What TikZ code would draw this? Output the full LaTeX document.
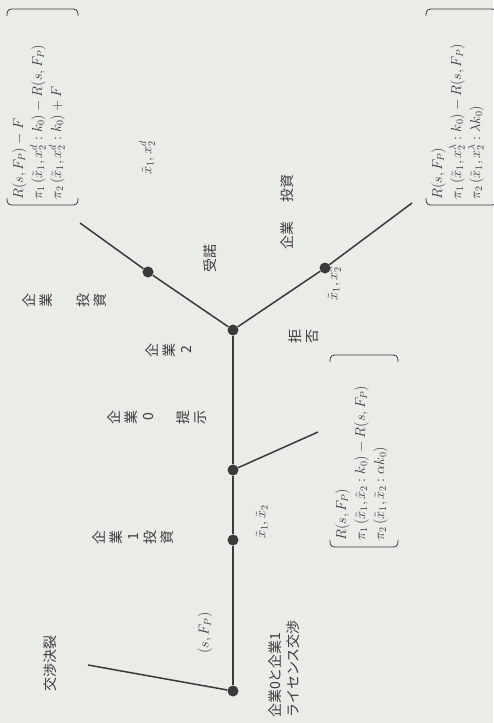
\documentclass[tikz,border=0pt]{standalone}
\usepackage{fontspec}
\newfontfamily\jp{Noto Sans CJK JP}
\definecolor{bgc}{RGB}{234,236,232}
\definecolor{ink}{RGB}{58,58,58}
\begin{document}
\begin{tikzpicture}[x=1pt,y=-1pt,
  dot/.style={circle,fill=ink,inner sep=0pt,minimum size=11pt},
  stem/.style={draw=ink,line width=2.2pt},
  branch/.style={draw=ink,line width=1.5pt},
  vlab/.style={rotate=90,text=ink,font=\jp\fontsize{14}{17}\selectfont,inner sep=0pt},
  tate/.style={rotate=90,align=center,text=ink,font=\jp\fontsize{14}{17}\selectfont,inner sep=0pt},
  mlab/.style={rotate=90,text=ink,font=\fontsize{14}{17}\selectfont,inner sep=0pt},
  mat/.style={rotate=90,align=left,text=ink,font=\fontsize{14}{19}\selectfont,inner sep=0pt,anchor=north west},
  paren/.style={draw=ink,line width=0.8pt}]
\fill[bgc] (0,0) rectangle (493,723);
\useasboundingbox (0,0) rectangle (493,723);
% nodes of the tree
\node[dot] (A) at (233,691) {};
\node[dot] (B) at (233,540) {};
\node[dot] (C) at (233,470) {};
\node[dot] (D) at (233,330) {};
\node[dot] (E) at (148,272) {};
\node[dot] (F) at (325,268) {};
\coordinate (Aend) at (88,665);
\coordinate (Cend) at (318,432);
\coordinate (Lend) at (80,223);
\coordinate (Rend) at (412,203);
% connectors
\draw[stem] (A) -- (B) -- (C) -- (D);
\draw[branch] (A) -- (Aend);
\draw[branch] (C) -- (Cend);
\draw[branch] (D) -- (E) -- (Lend);
\draw[branch] (D) -- (F) -- (Rend);
% Japanese labels
\node[vlab] (ketsu) at (50,663) {交渉決裂};
\node[vlab,align=left,anchor=north west] (root) at (268,718) {企業0と企業1\\[1pt]ライセンス交渉};
\node[tate] (inv1) at (133,537) {企\\業\\1\\投\\資};
\node[tate] (offer) at (157,417) {企\\業\\0\\[18pt]提\\示};
\node[tate] (f2) at (169,350) {企\\業\\2};
\node[tate] (invL) at (65,300) {企\\業\\[20pt]投\\資};
\node[tate] (rej) at (304,336) {拒\\否};
\node[vlab] (acc) at (210,258) {受諾};
\node[vlab] (invR) at (287,212) {企業\hspace{1.3em}投資};
% math labels
\node[mlab] (sf) at (205,633) {$(s,F_P)$};
\node[mlab] (x12) at (262,522) {$\tilde{x}_1,\tilde{x}_2$};
\node[mlab] (x1d) at (147,158) {$\tilde{x}_1,x_2^d$};
\node[mlab] (x1l) at (333,283) {$\tilde{x}_1,x_2^\lambda$};
% payoff vectors
\node[mat] (payL) at (12,200) {$R(s,F_P)-F$\\$\pi_1\,(\tilde{x}_1,x_2^d:k_0)-R(s,F_P)$\\$\pi_2\,(\tilde{x}_1,x_2^d:k_0)+F$};
\node[mat] (payR) at (431,200) {$R(s,F_P)$\\$\pi_1\,(\tilde{x}_1,x_2^\lambda:k_0)-R(s,F_P)$\\$\pi_2\,(\tilde{x}_1,x_2^\lambda:\lambda k_0)$};
\node[mat] (payM) at (335,541) {$R(s,F_P)$\\$\pi_1\,(\tilde{x}_1,\tilde{x}_2:k_0)-R(s,F_P)$\\$\pi_2\,(\tilde{x}_1,\tilde{x}_2:\alpha k_0)$};
% brackets
\draw[paren] (7,198) .. controls (7,205) and (9,205) .. (15,205) -- (70,205) .. controls (76,205) and (78,205) .. (78,198);
\draw[paren] (7,16) .. controls (7,9) and (9,9) .. (15,9) -- (70,9) .. controls (76,9) and (78,9) .. (78,16);
\draw[paren] (426,198) .. controls (426,205) and (428,205) .. (434,205) -- (489,205) .. controls (495,205) and (497,205) .. (497,198);
\draw[paren] (426,16) .. controls (426,9) and (428,9) .. (434,9) -- (489,9) .. controls (495,9) and (497,9) .. (497,16);
\draw[paren] (330,540) .. controls (330,547) and (332,547) .. (338,547) -- (390,547) .. controls (396,547) and (398,547) .. (398,540);
\draw[paren] (330,362) .. controls (330,355) and (332,355) .. (338,355) -- (390,355) .. controls (396,355) and (398,355) .. (398,362);
\end{tikzpicture}
\end{document}
